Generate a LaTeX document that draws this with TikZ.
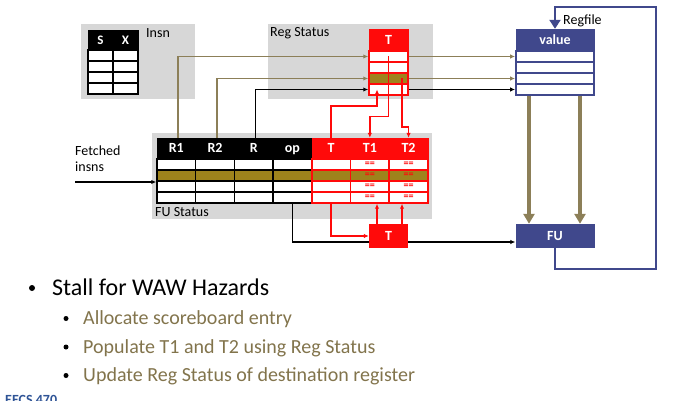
\documentclass[tikz,border=0pt]{standalone}
\usepackage{fontspec}
\setmainfont{Carlito}
\usetikzlibrary{arrows.meta}

\definecolor{panelgray}{RGB}{215,215,215}
\definecolor{sbred}{RGB}{255,10,10}
\definecolor{sbolive}{RGB}{158,131,28}
\definecolor{feedkhaki}{RGB}{140,127,88}
\definecolor{regnavy}{RGB}{64,72,140}
\definecolor{bullettext}{RGB}{130,116,76}
\definecolor{eecsblue}{RGB}{47,84,150}

\begin{document}
\begin{tikzpicture}[x=1pt,y=-1pt,
    lbl/.style={font=\fontsize{14}{17}\selectfont,inner sep=0pt},
    hdr/.style={font=\bfseries\fontsize{14}{17}\selectfont,text=white,inner sep=0pt,text height=9pt,text depth=0pt},
    blkcell/.style={draw=black,line width=1.5pt,minimum width=38.7pt,minimum height=11pt,inner sep=0pt},
    redcell/.style={draw=sbred,line width=1.5pt,minimum width=38.7pt,minimum height=11pt,inner sep=0pt,
        text=sbred,font=\bfseries\fontsize{10}{10}\selectfont},
    arr/.style={-{Latex[length=5pt,width=4.5pt]}},
    feed/.style={draw=feedkhaki,line width=1.8pt},
    ctl/.style={draw=black,line width=1.4pt},
    upd/.style={draw=sbred,line width=1.6pt,arr},
    bus/.style={draw=feedkhaki,line width=3.5pt,-{Triangle[length=10pt,width=11pt]}},
    loopline/.style={draw=regnavy,line width=2.8pt,-{Triangle[length=9pt,width=11pt]}},
    bigtext/.style={font=\fontsize{24}{28}\selectfont,inner sep=0pt},
    subtext/.style={font=\fontsize{20}{24}\selectfont,inner sep=0pt,text=bullettext}]
\useasboundingbox (0,0) rectangle (678,401);

% panels
\fill[panelgray] (81,24) rectangle (195,99);
\fill[panelgray] (268,24) rectangle (433,99);
\fill[panelgray] (152,133) rectangle (432,219);
\node[lbl,anchor=base west] (insnlbl) at (146,37.5) {Insn};
\node[lbl,anchor=base west] (rslbl) at (270,37) {Reg Status};
\node[lbl,anchor=base west] (fslbl) at (155,216) {FU Status};

% Insn table
\foreach \lab [count=\c] in {S,X}
    \node[hdr,fill=black,draw=black,minimum width=25pt,minimum height=20pt,font=\bfseries\fontsize{13}{13}\selectfont]
        (ih\c) at ({88+25*(\c-0.5)},40) {\lab};
\foreach \c in {1,2}
    \foreach \r in {1,...,4}
        \node[blkcell,fill=white,minimum width=25pt] (iq\c\r) at ({88+25*(\c-0.5)},{44.5+11*\r}) {};

% Reg Status table
\node[hdr,fill=sbred,draw=sbred,minimum width=39pt,minimum height=22pt] (rshd) at (388.5,40) {T};
\foreach \r/\fc in {1/white,2/white,3/sbolive,4/white}
    \node[redcell,fill=\fc,minimum width=39pt] (rs\r) at (388.5,{45.5+11*\r}) {};

% Regfile
\node[hdr,fill=regnavy,draw=regnavy,minimum width=78pt,minimum height=22pt] (vhead) at (555,40) {value};
\foreach \r in {1,...,4}
    \node[draw=regnavy,fill=white,line width=1.8pt,minimum width=78pt,minimum height=11pt,inner sep=0pt]
        (rf\r) at (555,{45.5+11*\r}) {};
\node[lbl,anchor=base west] (rflbl) at (563,25) {Regfile};

% FU Status table
\foreach \lab [count=\c] in {R1,R2,R,op}
    \node[hdr,fill=black,draw=black,minimum width=38.7pt,minimum height=21pt] (h\c) at ({157+38.7*(\c-0.5)},148.5) {\lab};
\foreach \lab [count=\c from 5] in {T,T1,T2}
    \node[hdr,fill=sbred,draw=sbred,minimum width=38.7pt,minimum height=21pt] (h\c) at ({157+38.7*(\c-0.5)},148.5) {\lab};
\foreach \c in {1,...,4}
    \foreach \r/\fc in {1/white,2/sbolive,3/white,4/white}
        \node[blkcell,fill=\fc] (u\c\r) at ({157+38.7*(\c-0.5)},{153.5+11*\r}) {};
\foreach \r/\fc in {1/white,2/sbolive,3/white,4/white}
    \node[redcell,fill=\fc] (u5\r) at (331.15,{153.5+11*\r}) {};
\foreach \c in {6,7}
    \foreach \r/\fc in {1/white,2/sbolive,3/white,4/white}
        \node[redcell,fill=\fc] (u\c\r) at ({157+38.7*(\c-0.5)},{153.5+11*\r}) {==};

\node[lbl,anchor=base west,align=left] (fetch) at (75,172) {Fetched\\insns};
\coordinate (fin) at (75,182);
\draw[ctl,arr] (fin) -- (fin -| u12.west);

% sources to Reg Status and Regfile
\draw[feed,arr] ([xshift=2pt]h1.north) |- (rs1.west);
\draw[feed,arr] (rs1.east) -- (rf1.west);
\draw[feed,arr] ([xshift=2pt]h2.north) |- (rs3.west);
\draw[feed,arr] (rs3.east) -- (rf3.west);
\draw[ctl,arr] ([xshift=2pt]h3.north) |- (rs4.west);
\draw[ctl,arr] (rs4.east) -- (rf4.west);

% Reg Status updates
\draw[upd] (h5.north) -- ++(0,-32) -| ([xshift=-11.5pt]rs4.center);
\draw[upd] (rs1.center) -- ++(0,60) -| (h6.north);
\draw[upd] ([xshift=13.5pt]rs3.center) -- ++(0,48.5) -| (h7.north);

% issue path
\node[hdr,fill=sbred,minimum width=39pt,minimum height=24pt] (tnew) at (388.5,236) {T};
\node[hdr,fill=regnavy,minimum width=79pt,minimum height=24pt] (fu) at (555,236) {FU};
\draw[ctl] (u44.south) |- ([yshift=-6pt]tnew.west);
\draw[ctl,arr] ([yshift=-6pt]tnew.east) -- ([yshift=-6pt]fu.west);
\draw[upd] (u54.south) |- (tnew.west);
\draw[upd] ([xshift=-11.5pt]tnew.north) -- ([xshift=-11.5pt]tnew.north |- u64.south);
\draw[upd] ([xshift=13.5pt]tnew.north) -- ([xshift=13.5pt]tnew.north |- u74.south);

% operands and writeback
\draw[bus] ([xshift=-26pt]rf4.south) -- ([xshift=-26pt]fu.north);
\draw[bus] ([xshift=25pt]rf4.south) -- ([xshift=25pt]fu.north);
\coordinate (wb1) at (656,269);
\coordinate (wb2) at (656,7);
\draw[loopline] (fu.south) |- (wb1) -- (wb2) -| (vhead.north);

% bullets
\fill (32,288) circle (3pt);
\node[bigtext,anchor=base west] (stall) at (52,295) {Stall for WAW Hazards};
\foreach \txt [count=\i] in {Allocate scoreboard entry,Populate T1 and T2 using Reg Status,Update Reg Status of destination register}
{
    \fill (66,{290+28.5*\i}) circle (2.5pt);
    \node[subtext,anchor=base west] (step\i) at (83,{295.5+28.8*\i}) {\txt};
}
\node[font=\bfseries\fontsize{14}{14}\selectfont,text=eecsblue,anchor=base west,inner sep=0pt] (course) at (5,404) {EECS 470};
\end{tikzpicture}
\end{document}
